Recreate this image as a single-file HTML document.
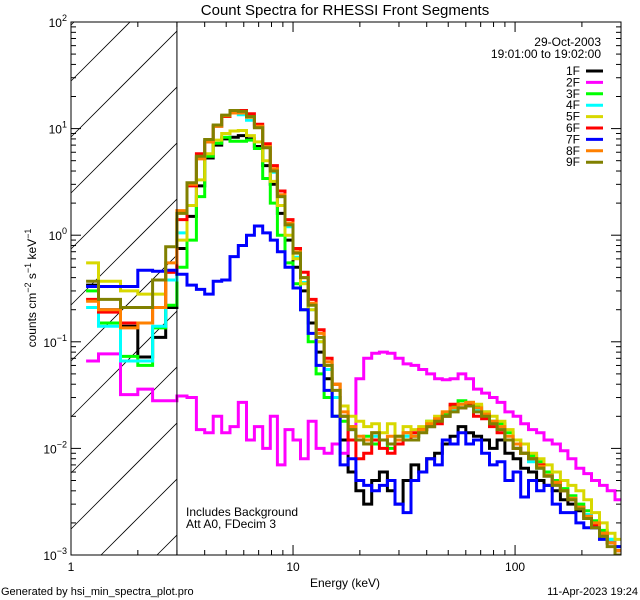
<!DOCTYPE html>
<html><head><meta charset="utf-8">
<style>
html,body{margin:0;padding:0;background:#fff;width:640px;height:600px;overflow:hidden;}
svg{display:block;font-family:"Liberation Sans",sans-serif;}
</style></head>
<body>
<svg id="chart" width="640" height="600" viewBox="0 0 640 600" xmlns="http://www.w3.org/2000/svg">
<defs><clipPath id="plotclip"><rect x="71" y="22" width="550" height="533"/></clipPath></defs>
<rect width="640" height="600" fill="#fff"/>
<text x="345" y="15" font-size="15" text-anchor="middle">Count Spectra for RHESSI Front Segments</text>
<g id="hatch"></g>
<g id="series" clip-path="url(#plotclip)"></g>
<g id="axes"></g>
<text x="601" y="46" font-size="12" text-anchor="end">29-Oct-2003</text>
<text x="601" y="58" font-size="12" text-anchor="end">19:01:00 to 19:02:00</text>
<g id="legend"></g>
<text x="186" y="516" font-size="12">Includes Background</text>
<text x="186" y="528" font-size="12">Att A0, FDecim 3</text>
<text x="345" y="587" font-size="12" text-anchor="middle">Energy (keV)</text>
<text transform="translate(36,288) rotate(-90)" font-size="12" text-anchor="middle">counts cm<tspan dy="-5" font-size="9">−2</tspan><tspan dy="5"> s</tspan><tspan dy="-5" font-size="9">−1</tspan><tspan dy="5"> keV</tspan><tspan dy="-5" font-size="9">−1</tspan></text>
<text x="1" y="595" font-size="11">Generated by hsi_min_spectra_plot.pro</text>
<text x="638" y="595" font-size="11" text-anchor="end">11-Apr-2023 19:24</text>
</svg>
<script>
const edges=[1.17,1.33,1.67,2.0,2.33,2.67,3.0,3.33,3.67,4.0,4.37,4.77,5.2,5.67,6.17,6.7,7.3,7.9,8.5,9.2,10,10.8,11.7,12.7,13.8,15,16.3,17.7,19.2,20.8,22.6,24.5,26.6,28.8,31.3,34,36.8,40,43.4,47,51,55.4,60,65,70.7,76.7,83,90,98,106,115,125,135,147,160,173,188,204,221,240,260,282,300];
const seriesNames=["1F","2F","3F","4F","5F","6F","7F","8F","9F"];
const seriesColors=["#000000","#ff00ff","#00ff00","#00ffff","#d8d800","#ff0000","#0000ff","#ff8000","#808000"];
const s1F=[0.34,0.2,0.14,0.072,0.11,0.21, 0.75,1.5,2.9,5.3,7.0,8.0,8.3,8.6,8.0,6.8, 4.5,3.0,1.6,0.9,0.5,0.3,0.15,0.08,0.045,0.03, 0.012,0.006,0.004,0.003,0.005,0.006,0.004,0.003,0.005,0.007, 0.006,0.008,0.009,0.011,0.013,0.016,0.014,0.013,0.012,0.01, 0.012,0.009,0.008,0.0065,0.006,0.005,0.0045,0.004,0.0033,0.003, 0.0026,0.0022,0.0018,0.0015,0.0013,0.0011];
const s2F=[0.066,0.077,0.032,0.036,0.028,0.028, 0.031,0.03,0.015,0.014,0.02,0.014,0.016,0.027,0.012,0.016, 0.01,0.02,0.007,0.015,0.012,0.008,0.018,0.01,0.009,0.011, 0.009,0.015,0.045,0.07,0.078,0.08,0.078,0.07,0.062,0.06, 0.055,0.05,0.045,0.044,0.045,0.05,0.045,0.036,0.033,0.03, 0.027,0.022,0.02,0.017,0.015,0.014,0.012,0.011,0.0095,0.008, 0.0065,0.0058,0.005,0.0045,0.004,0.0033];
const s3F=[0.30,0.15,0.073,0.06,0.135,0.22, 0.5,0.9,2.3,5.5,7.3,8.3,7.6,7.6,7.8,6.5, 3.4,2.0,1.0,0.55,0.35,0.2,0.1,0.05,0.03,0.02, 0.018,0.016,0.012,0.013,0.011,0.012,0.01,0.012,0.014,0.013, 0.015,0.018,0.019,0.021,0.025,0.028,0.027,0.025,0.022,0.018, 0.017,0.014,0.012,0.009,0.0085,0.0075,0.006,0.005,0.0042,0.0036, 0.003,0.0026,0.0021,0.0017,0.0014,0.0012];
const s4F=[0.21,0.14,0.066,0.066,0.14,0.38, 1.05,3.0,5.4,7.7,10.5,13,14.2,13.5,12,10.5, 6.8,3.9,2.3,1.2,0.62,0.36,0.2,0.1,0.055,0.03, 0.02,0.015,0.012,0.011,0.013,0.012,0.011,0.012,0.013,0.013, 0.015,0.016,0.019,0.02,0.023,0.024,0.026,0.023,0.02,0.017, 0.015,0.012,0.01,0.009,0.0075,0.0065,0.0055,0.0047,0.004,0.0034, 0.0028,0.0024,0.0019,0.0016,0.0014,0.0012];
const s5F=[0.55,0.37,0.30,0.28,0.28,0.45, 0.9,1.9,3.3,5.8,7.8,9.0,9.5,9.6,8.6,7.5, 5.0,3.2,1.9,1.0,0.6,0.35,0.2,0.1,0.06,0.04, 0.025,0.02,0.018,0.016,0.017,0.014,0.017,0.013,0.016,0.015, 0.016,0.018,0.02,0.022,0.024,0.026,0.025,0.026,0.022,0.02, 0.018,0.015,0.012,0.011,0.009,0.008,0.007,0.006,0.005,0.0045, 0.004,0.0033,0.0025,0.002,0.0016,0.0014];
const s6F=[0.25,0.19,0.15,0.15,0.21,0.45, 1.4,2.9,5.8,7.5,10.5,13,14.5,14.8,13.8,11, 7.2,4.5,2.6,1.4,0.75,0.45,0.25,0.13,0.07,0.04, 0.02,0.012,0.008,0.009,0.012,0.01,0.009,0.011,0.012,0.014, 0.015,0.016,0.017,0.02,0.026,0.024,0.026,0.02,0.019,0.016, 0.014,0.012,0.01,0.009,0.008,0.007,0.0055,0.0048,0.004,0.0033, 0.0028,0.0023,0.0019,0.0016,0.0013,0.0011];
const s7F=[0.33,0.33,0.33,0.47,0.46,0.47, 0.43,0.34,0.31,0.28,0.37,0.38,0.63,0.8,1.0,1.22, 1.05,0.9,0.7,0.5,0.32,0.2,0.12,0.06,0.035,0.02, 0.007,0.008,0.005,0.0045,0.004,0.0045,0.005,0.003,0.0025,0.005, 0.006,0.008,0.007,0.012,0.011,0.014,0.011,0.012,0.009,0.007, 0.0075,0.005,0.006,0.0035,0.005,0.004,0.0045,0.003,0.0025,0.0025, 0.002,0.0018,0.0018,0.0014,0.0013,0.0012];
const s8F=[0.24,0.2,0.135,0.15,0.21,0.55, 1.7,3.0,5.2,7.5,10.5,13.2,14,14,12.8,10.5, 6.8,4.2,2.4,1.3,0.7,0.4,0.23,0.12,0.065,0.04, 0.022,0.016,0.013,0.012,0.014,0.012,0.013,0.012,0.014,0.013, 0.015,0.017,0.019,0.022,0.024,0.026,0.027,0.024,0.021,0.018, 0.016,0.013,0.011,0.009,0.008,0.0068,0.0056,0.0048,0.004,0.0034, 0.0028,0.0023,0.002,0.0016,0.0013,0.0011];
const s9F=[0.37,0.25,0.21,0.21,0.38,0.78, 1.6,3.1,5.5,7.9,10.8,13.4,14.8,14.5,13,10.2, 6.6,4.0,2.3,1.25,0.68,0.4,0.22,0.11,0.06,0.035, 0.02,0.015,0.012,0.011,0.014,0.012,0.011,0.013,0.012,0.012, 0.014,0.016,0.018,0.02,0.022,0.024,0.025,0.022,0.02,0.017, 0.015,0.012,0.01,0.009,0.008,0.0065,0.0055,0.0045,0.004,0.0033, 0.0027,0.0022,0.0018,0.0015,0.0012,0.001];
const seriesData=[s1F,s2F,s3F,s4F,s5F,s6F,s7F,s8F,s9F];
const yTickExps=[2,1,0,-1,-2,-3];
const xTickLabels=["1","10","100"];
const thresholdKeV=3;

const NS="http://www.w3.org/2000/svg";
const X0=71,X1=621,Y0=22,Y1=555,XMIN=1,XMAX=300,YMIN=-3,YMAX=2;
const XD=(X1-X0)/Math.log10(XMAX/XMIN);
function xs(e){return X0+Math.log10(e/XMIN)*XD;}
function ys(v){const l=Math.log10(Math.max(v,1e-6));return Y0+(YMAX-l)/(YMAX-YMIN)*(Y1-Y0);}
function mk(tag,attrs,parent){const el=document.createElementNS(NS,tag);for(const k in attrs)el.setAttribute(k,attrs[k]);parent.appendChild(el);return el;}

const hatch=document.getElementById('hatch');
const HX1=xs(thresholdKeV);
for(let k=-12;k<14;k++){
  const c=137+56*k; // line: y = c - (x - X0)
  let xa=X0, ya=c;
  if(ya>Y1){xa=X0+(c-Y1);ya=Y1;}
  let xb=HX1, yb=c-(HX1-X0);
  if(yb<Y0){xb=X0+(c-Y0);yb=Y0;}
  if(xa>=xb||ya<Y0||yb>Y1)continue;
  const ln=mk('line',{x1:xa,y1:ya,x2:xb,y2:yb,stroke:'#000','stroke-width':0.8},hatch);
  
  
}
const axes=document.getElementById('axes');
const th=mk('line',{x1:xs(thresholdKeV),y1:Y0,x2:xs(thresholdKeV),y2:Y1,stroke:'#000','stroke-width':1},axes);



const sg=document.getElementById('series');
seriesData.forEach((vals,si)=>{
  let d='';
  for(let i=0;i<vals.length;i++){
    const y=Math.min(ys(vals[i]),Y1).toFixed(1);
    if(i===0)d+=`M${xs(edges[0]).toFixed(1)},${y}`;else d+=`V${y}`;
    d+=`H${xs(edges[i+1]).toFixed(1)}`;
  }
  const p=mk('path',{d:d,fill:'none',stroke:seriesColors[si],'stroke-width':3,'stroke-linejoin':'miter'},sg);
  
  
});

const fr=mk('rect',{x:X0,y:Y0,width:X1-X0,height:Y1-Y0,fill:'none',stroke:'#000','stroke-width':1},axes);



for(let dec=1;dec<=100;dec*=10){
  for(let m=1;m<=9;m++){
    const e=dec*m; if(e>XMAX)break;
    const x=xs(e), L=(m===1)?10:5;
    mk('line',{x1:x,y1:Y1,x2:x,y2:Y1-L,stroke:'#000'},axes);
    mk('line',{x1:x,y1:Y0,x2:x,y2:Y0+L,stroke:'#000'},axes);
  }
}
xTickLabels.forEach(t=>{
  const tx=mk('text',{x:xs(parseFloat(t)),y:571,'font-size':12,'text-anchor':'middle'},axes);
  tx.textContent=t;
  
  
});
for(let ex=YMIN;ex<YMAX;ex++){
  for(let m=1;m<=9;m++){
    const y=ys(m*Math.pow(10,ex)), L=(m===1)?10:5;
    mk('line',{x1:X0,y1:y,x2:X0+L,y2:y,stroke:'#000'},axes);
    mk('line',{x1:X1,y1:y,x2:X1-L,y2:y,stroke:'#000'},axes);
  }
}
yTickExps.forEach(ex=>{
  const y=ys(Math.pow(10,ex));
  const tx=mk('text',{x:67,y:y+5,'font-size':12,'text-anchor':'end'},axes);
  tx.innerHTML='10<tspan dy="-6" font-size="9">'+(ex<0?'−'+(-ex):ex)+'</tspan>';
  
  
});

const lg=document.getElementById('legend');
seriesNames.forEach((n,i)=>{
  const y=71+i*11.4;
  const t=mk('text',{x:580,y:y+4,'font-size':12,'text-anchor':'end'},lg);
  t.textContent=n;
  
  
  const l=mk('line',{x1:586,y1:y,x2:603,y2:y,stroke:seriesColors[i],'stroke-width':3},lg);
  
  
});
</script>
</body></html>
